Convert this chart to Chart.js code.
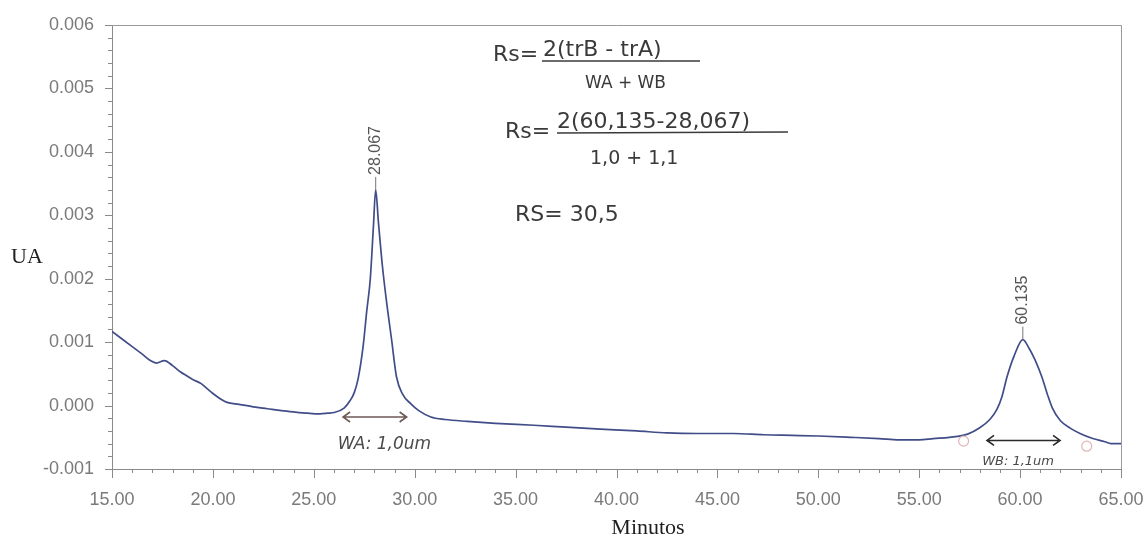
<!DOCTYPE html>
<html>
<head>
<meta charset="utf-8">
<script src="https://cdn.jsdelivr.net/npm/chart.js@4.4.0/dist/chart.umd.min.js"></script>
<style>
  html, body { margin: 0; padding: 0; background: #fff; }
  #wrap { width: 1146px; height: 538px; }
</style>
</head>
<body>
<div id="wrap"><canvas id="chromChart"></canvas></div>
<script>
// Chromatogram trace (minutes, absorbance UA)
const minutes = [15.0, 15.5, 16.0, 16.5, 16.9, 17.2, 17.6, 18.0, 18.4, 18.7, 19.0, 19.4, 19.7, 20.0, 20.4, 20.7, 21.3, 22.0, 22.7, 23.4, 24.0, 24.7, 25.3, 25.7, 26.0, 26.5, 26.8,
  27.0, 27.2, 27.45, 27.62, 27.8, 27.95, 28.067, 28.2, 28.4, 28.6, 28.85, 29.1, 29.4, 29.8, 30.2, 30.8,
  31.5, 32.6, 34.0, 35.9, 37.5, 39.2, 41.0, 42.5, 44.0, 45.8, 47.3, 48.7, 50.0, 51.6, 53.0, 54.0, 55.0, 55.7, 56.5,
  57.4, 58.0, 58.5, 58.85, 59.1, 59.35, 59.7, 60.135, 60.45, 60.74, 61.08, 61.35, 61.6, 62.0, 62.5, 62.97, 63.6, 64.2, 64.5, 65.0];
const absorbance = [0.00117, 0.00105, 0.00093, 0.00081, 0.00071, 0.00067, 0.00071, 0.00063, 0.00053, 0.00047, 0.00041, 0.00035, 0.00027, 0.00019, 0.0001, 0.00005, 0.00002, -0.00002, -0.00005, -0.00008, -0.0001, -0.00012, -0.00013, -0.00012, -0.00011, -0.00004, 0.00008,
  0.0002, 0.00043, 0.00095, 0.00148, 0.002, 0.0028, 0.0034, 0.0029, 0.0022, 0.00165, 0.00105, 0.00045, 0.00018, 0.00003, -0.00008, -0.00018,
  -0.00022, -0.00025, -0.00028, -0.00031, -0.00034, -0.00037, -0.0004, -0.00043, -0.00044, -0.00044, -0.00046, -0.00047, -0.00048, -0.0005, -0.00052, -0.00054, -0.00054, -0.00052, -0.0005,
  -0.00045, -0.00035, -0.00022, -0.00006, 0.00014, 0.00045, 0.00078, 0.00104, 0.0009, 0.00072, 0.00045, 0.00018, -0.00004, -0.00024, -0.00036, -0.00044, -0.00052, -0.00057, -0.0006, -0.0006];

// Peak apex labels
const peakTimes = [28.067, 60.135];
const peakHeights = [0.0034, 0.00104];
const peakLabels = ['28.067', '60.135'];

// Width markers drawn under each peak
const widthFrom = [26.45, 58.36];
const widthTo = [29.6, 61.98];
const widthLevel = [-0.00018, -0.00055];
const widthText = ['WA: 1,0um', 'WB: 1,1um'];

// Axis ticks
const yTicks = [-0.001, 0, 0.001, 0.002, 0.003, 0.004, 0.005, 0.006];
const xTicks = [15, 20, 25, 30, 35, 40, 45, 50, 55, 60, 65];

const points = minutes.map((m, i) => ({ x: m, y: absorbance[i] }));

const annotations = {
  id: 'annotations',
  afterDraw(chart) {
    const c = chart.ctx;
    const xs = chart.scales.x, ys = chart.scales.y;
    const a = chart.chartArea;
    c.save();

    // frame top + right
    c.strokeStyle = '#9a9a9a';
    c.lineWidth = 1;
    c.beginPath();
    c.moveTo(a.left, a.top + 0.5);
    c.lineTo(a.right + 0.5, a.top + 0.5);
    c.lineTo(a.right + 0.5, a.bottom);
    c.stroke();

    // tick marks (major + minor)
    c.strokeStyle = '#8a8a8a';
    for (let v = -10; v <= 60; v += 2) {
      const py = Math.round(ys.getPixelForValue(v / 10000)) + 0.5;
      const len = v % 10 === 0 ? 7 : 4;
      c.beginPath();
      c.moveTo(a.left - len, py);
      c.lineTo(a.left, py);
      c.stroke();
    }
    for (let v = 15; v <= 65; v++) {
      const px = Math.round(xs.getPixelForValue(v)) + 0.5;
      const len = v % 5 === 0 ? 9 : 4;
      c.beginPath();
      c.moveTo(px, a.bottom);
      c.lineTo(px, a.bottom + len);
      c.stroke();
    }

    // peak labels
    c.font = '16px "Liberation Sans", Arial, sans-serif';
    c.fillStyle = '#555';
    c.strokeStyle = '#777';
    peakTimes.forEach((t, i) => {
      const px = xs.getPixelForValue(t);
      const py = ys.getPixelForValue(peakHeights[i]);
      c.beginPath();
      c.moveTo(px, py);
      c.lineTo(px, py - 13);
      c.stroke();
      c.save();
      c.translate(px, py - 15);
      c.rotate(-Math.PI / 2);
      c.textAlign = 'left';
      c.textBaseline = 'middle';
      c.fillText(peakLabels[i], 0, 0);
      c.restore();
    });

    // width arrows
    const arrowColors = ['#6e5a55', '#2a2a2a'];
    widthFrom.forEach((f, i) => {
      const x1 = xs.getPixelForValue(f), x2 = xs.getPixelForValue(widthTo[i]);
      const y = ys.getPixelForValue(widthLevel[i]);
      c.strokeStyle = arrowColors[i];
      c.lineWidth = 1.6;
      c.beginPath();
      c.moveTo(x1, y); c.lineTo(x2, y);
      c.moveTo(x1 + 7, y - 5); c.lineTo(x1, y); c.lineTo(x1 + 7, y + 5);
      c.moveTo(x2 - 7, y - 5); c.lineTo(x2, y); c.lineTo(x2 - 7, y + 5);
      c.stroke();
    });
    c.fillStyle = '#4a4a4a';
    c.textAlign = 'center';
    c.textBaseline = 'middle';
    c.font = 'italic 17px "DejaVu Sans", sans-serif';
    c.fillText(widthText[0], xs.getPixelForValue(28.5), ys.getPixelForValue(-0.00062));
    c.font = 'italic 13px "DejaVu Sans", sans-serif';
    c.fillText(widthText[1], xs.getPixelForValue(59.9), ys.getPixelForValue(-0.00088));

    // faint integration markers
    c.strokeStyle = '#e0b4b4';
    c.lineWidth = 1.2;
    [[57.2, -0.00056], [63.3, -0.00064]].forEach(p => {
      c.beginPath();
      c.arc(xs.getPixelForValue(p[0]), ys.getPixelForValue(p[1]), 5, 0, Math.PI * 2);
      c.stroke();
    });

    // handwritten notes
    c.fillStyle = '#3a3a3a';
    c.strokeStyle = '#3a3a3a';
    c.lineWidth = 1.5;
    c.textAlign = 'left';
    c.textBaseline = 'alphabetic';
    c.font = '22px "DejaVu Sans", sans-serif';
    c.fillText('Rs=', 493, 61);
    c.fillText('2(trB - trA)', 543, 56);
    c.beginPath(); c.moveTo(542, 61); c.lineTo(700, 61); c.stroke();
    c.font = '17px "DejaVu Sans", sans-serif';
    c.fillText('WA + WB', 585, 88);
    c.font = '22px "DejaVu Sans", sans-serif';
    c.fillText('Rs=', 505, 138);
    c.fillText('2(60,135-28,067)', 557, 128);
    c.beginPath(); c.moveTo(557, 133); c.lineTo(788, 132); c.stroke();
    c.font = '19px "DejaVu Sans", sans-serif';
    c.fillText('1,0 + 1,1', 590, 164);
    c.font = '22px "DejaVu Sans", sans-serif';
    c.fillText('RS= 30,5', 515, 221);

    // axis titles
    c.fillStyle = '#1e1e1e';
    c.font = '22px "Liberation Serif", "Times New Roman", serif';
    c.textAlign = 'left';
    c.fillText('UA', 11, 263);
    c.textAlign = 'center';
    c.fillText('Minutos', 648, 534);
    c.restore();
  }
};

const ctx = document.getElementById('chromChart').getContext('2d');
const chromChart = new Chart(ctx, {
  type: 'line',
  data: {
    datasets: [{
      data: points,
      borderColor: '#404d88',
      borderWidth: 1.7,
      pointRadius: 0,
      cubicInterpolationMode: 'monotone',
      fill: false
    }]
  },
  options: {
    responsive: true,
    maintainAspectRatio: false,
    animation: false,
    layout: { padding: { top: 25, right: 25, left: 0, bottom: 0 } },
    plugins: {
      legend: { display: false },
      tooltip: { enabled: false }
    },
    scales: {
      x: {
        type: 'linear',
        min: 15,
        max: 65,
        afterBuildTicks: scale => { scale.ticks = xTicks.map(v => ({ value: v })); },
        afterFit: scale => {
          scale.height = 69;
          scale.paddingLeft = 0;
          scale.paddingRight = 0;
        },
        ticks: {
          padding: 12,
          maxRotation: 0,
          color: '#7a7a7a',
          font: { family: '"Liberation Sans", Arial, sans-serif', size: 18 },
          callback: v => Number(v).toFixed(2)
        },
        grid: { display: false },
        border: { display: true, color: '#8a8a8a', width: 1 }
      },
      y: {
        min: -0.001,
        max: 0.006,
        afterBuildTicks: scale => { scale.ticks = yTicks.map(v => ({ value: v })); },
        afterFit: scale => { scale.width = 112; },
        ticks: {
          padding: 10,
          color: '#7a7a7a',
          font: { family: '"Liberation Sans", Arial, sans-serif', size: 18 },
          callback: v => Number(v).toFixed(3)
        },
        grid: { display: false },
        border: { display: true, color: '#8a8a8a', width: 1 }
      }
    }
  },
  plugins: [annotations]
});
</script>
</body>
</html>
